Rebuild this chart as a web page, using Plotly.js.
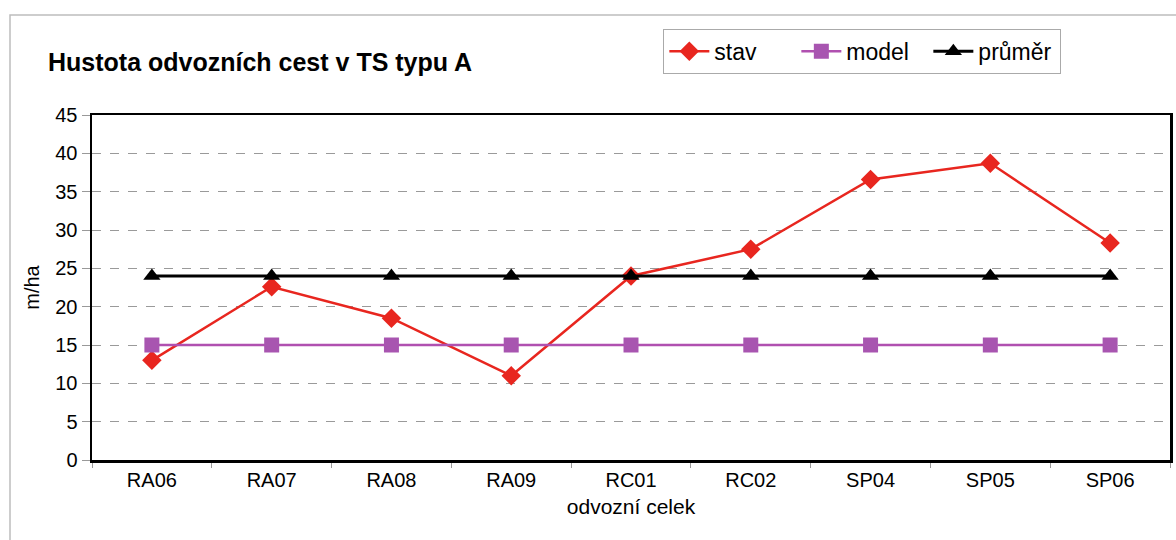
<!DOCTYPE html>
<html>
<head>
<meta charset="utf-8">
<script src="https://cdn.plot.ly/plotly-3.0.1.min.js"></script>
<style>html,body{margin:0;padding:0;background:#fff;}#chart{width:1176px;height:540px;}</style>
</head>
<body>
<div id="chart"></div>
<script>
const categories = ["RA06","RA07","RA08","RA09","RC01","RC02","SP04","SP05","SP06"];
const stav = [13.0, 22.6, 18.5, 11.0, 24.0, 27.5, 36.6, 38.7, 28.3];
const model = [15, 15, 15, 15, 15, 15, 15, 15, 15];
const prumer = [24, 24, 24, 24, 24, 24, 24, 24, 24];
const yTicks = [0,5,10,15,20,25,30,35,40,45];

const FONT = "Liberation Sans, Arial, sans-serif";

const traces = [
  {x: categories, y: stav, name: "stav", type: "scatter", mode: "lines+markers",
   line: {color: "#e8261f", width: 2.5}, marker: {symbol: "diamond", size: 15, color: "#e8261f"}},
  {x: categories, y: model, name: "model", type: "scatter", mode: "lines+markers",
   line: {color: "#b050b0", width: 2.5}, marker: {symbol: "square", size: 15, color: "#a855b0"}},
  {x: categories, y: prumer, name: "průměr", type: "scatter", mode: "lines+markers",
   line: {color: "#000000", width: 3}, marker: {symbol: "triangle-up", size: 15, color: "#000000"}}
];

const layout = {
  width: 1176, height: 540,
  margin: {l: 92, r: 6, t: 115, b: 80},
  paper_bgcolor: "#fff", plot_bgcolor: "#fff",
  font: {family: FONT, color: "#000", size: 20},
  title: {text: "<b>Hustota odvozních cest v TS typu A</b>", font: {family: FONT, size: 25, color: "#000"},
          xref: "container", yref: "container", x: 48/1176, xanchor: "left", y: 1-62/540, yanchor: "middle"},
  showlegend: true,
  legend: {orientation: "h", x: 0.53, xanchor: "left", y: 1.25, yanchor: "top",
           bordercolor: "#aaa", borderwidth: 1, bgcolor: "#fff",
           font: {family: FONT, size: 23, color: "#000"}, itemwidth: 40, tracegroupgap: 0,
           entrywidth: 77, entrywidthmode: "pixels"},
  xaxis: {type: "category", tickson: "boundaries", ticks: "outside", ticklen: 5, tickcolor: "#999",
          showgrid: false, showline: true, linecolor: "#000", linewidth: 2.5, mirror: true,
          tickfont: {family: FONT, size: 20}, range: [-0.5, 8.5],
          title: {text: "odvozní celek", font: {family: FONT, size: 21}, standoff: 10}},
  yaxis: {range: [0, 45], tickvals: yTicks, ticktext: yTicks.map(String), ticks: "outside", ticklen: 8, tickcolor: "#999",
          showgrid: true, gridcolor: "#9a9a9a", griddash: "dash", gridwidth: 1, zeroline: false,
          showline: true, linecolor: "#000", linewidth: 2.5, mirror: true,
          tickfont: {family: FONT, size: 20},
          title: {text: "m/ha", font: {family: FONT, size: 20}, standoff: 11}},
  shapes: [
    {type: "rect", xref: "paper", yref: "paper", x0: (10-92)/1078, x1: 1.2, y0: -0.5, y1: (460-15)/345,
     line: {color: "#bdbdbd", width: 1.5}, layer: "below"}
  ]
};

Plotly.newPlot("chart", traces, layout, {displayModeBar: false, staticPlot: true});
</script>
</body>
</html>
